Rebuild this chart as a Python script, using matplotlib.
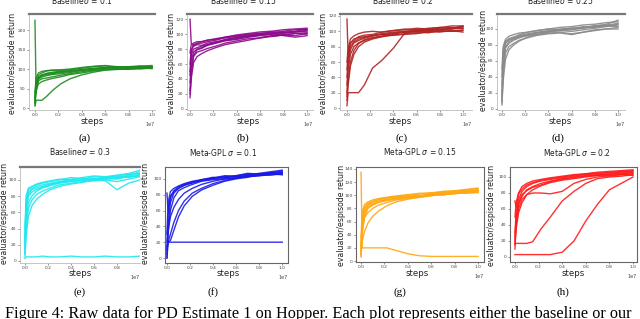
import matplotlib
matplotlib.use("Agg")
import matplotlib.pyplot as plt
from matplotlib.ticker import ScalarFormatter

# training steps (x 1e7) shared by every run
STEPS = [0, 0.01, 0.03, 0.06, 0.1, 0.15, 0.22, 0.3, 0.4, 0.5, 0.6, 0.7, 0.8, 0.9, 1.0]

# evaluator/episode return of each run
BASE_01 = [
    [225, 40, 75, 85, 88, 90, 93, 95, 97, 100, 103, 102, 104, 103, 106],
    [30, 70, 84, 90, 95, 97, 97, 98, 102, 106, 108, 104, 106, 108, 106],
    [15, 55, 70, 75, 77, 80, 84, 88, 93, 97, 100, 99, 101, 100, 103],
    [40, 78, 90, 94, 96, 97, 98, 100, 104, 107, 109, 106, 104, 107, 109],
    [8, 45, 62, 68, 72, 76, 80, 86, 90, 95, 98, 100, 99, 103, 101],
    [20, 60, 78, 82, 86, 88, 91, 93, 98, 102, 104, 104, 106, 104, 107],
    [5, 20, 20, 20, 30, 45, 62, 75, 85, 92, 97, 99, 100, 102, 103],
    [25, 65, 80, 84, 89, 92, 94, 96, 99, 101, 102, 106, 104, 105, 103],
    [12, 50, 74, 80, 83, 86, 88, 91, 96, 99, 103, 103, 102, 106, 105],
]
BASE_015 = [
    [120, 88, 84, 86, 85, 88, 90, 92, 95, 97, 99, 100, 101, 103, 104],
    [20, 45, 70, 76, 78, 81, 84, 88, 91, 94, 95, 98, 99, 98, 101],
    [60, 80, 84, 87, 90, 92, 93, 96, 99, 101, 103, 104, 106, 107, 108],
    [35, 65, 76, 80, 82, 85, 88, 91, 93, 96, 98, 97, 99, 101, 100],
    [15, 40, 62, 70, 74, 78, 82, 86, 89, 92, 95, 97, 99, 101, 102],
    [75, 86, 88, 90, 90, 92, 94, 96, 98, 100, 101, 103, 102, 104, 107],
    [45, 72, 80, 82, 84, 86, 89, 92, 94, 97, 100, 101, 98, 96, 98],
    [25, 55, 72, 79, 81, 86, 88, 93, 96, 98, 99, 100, 103, 103, 105],
    [50, 76, 86, 88, 88, 90, 92, 95, 97, 99, 101, 102, 104, 106, 106],
]
BASE_02 = [
    [116, 70, 85, 90, 92, 93, 95, 96, 98, 99, 100, 101, 102, 103, 104],
    [3, 20, 20, 20, 20, 30, 52, 62, 78, 98, 100, 98, 101, 100, 102],
    [40, 65, 80, 86, 90, 92, 94, 97, 99, 100, 102, 103, 101, 104, 106],
    [20, 50, 70, 80, 85, 88, 91, 93, 95, 96, 97, 99, 100, 100, 101],
    [60, 78, 90, 94, 97, 99, 100, 99, 101, 102, 104, 103, 105, 107, 107],
    [30, 55, 76, 85, 88, 91, 94, 96, 95, 97, 98, 100, 99, 101, 99],
    [15, 35, 60, 75, 84, 89, 92, 94, 97, 99, 101, 101, 103, 103, 107],
    [50, 72, 84, 88, 93, 95, 96, 99, 101, 103, 102, 104, 105, 104, 106],
    [10, 30, 55, 70, 80, 86, 90, 93, 96, 100, 99, 102, 104, 105, 104],
]
BASE_025 = [
    [10, 60, 82, 86, 88, 91, 93, 95, 97, 98, 99, 101, 103, 104, 106],
    [30, 70, 84, 88, 90, 92, 94, 96, 98, 100, 101, 102, 104, 106, 111],
    [5, 45, 70, 78, 82, 86, 89, 92, 94, 95, 93, 96, 98, 100, 102],
    [50, 78, 87, 91, 93, 95, 96, 98, 100, 102, 103, 105, 106, 108, 109],
    [20, 55, 78, 84, 87, 90, 92, 93, 95, 96, 94, 96, 99, 100, 100],
    [40, 74, 85, 87, 89, 93, 96, 98, 100, 99, 100, 103, 102, 105, 107],
    [15, 50, 76, 82, 86, 89, 92, 95, 97, 98, 97, 99, 101, 103, 105],
    [8, 35, 62, 74, 80, 85, 90, 93, 96, 99, 101, 101, 104, 104, 103],
]
BASE_03 = [
    [3, 5, 5, 5, 5, 6, 5, 5, 6, 5, 5, 6, 5, 5, 6],
    [10, 60, 82, 88, 90, 92, 95, 97, 99, 100, 102, 101, 103, 106, 110],
    [25, 75, 88, 91, 94, 96, 98, 100, 103, 101, 104, 103, 105, 107, 108],
    [5, 40, 65, 75, 82, 86, 90, 94, 96, 98, 99, 100, 98, 101, 104],
    [40, 80, 90, 92, 95, 97, 99, 101, 100, 102, 100, 99, 88, 96, 100],
    [15, 50, 72, 80, 86, 90, 93, 96, 98, 100, 101, 103, 104, 103, 106],
    [30, 70, 85, 89, 92, 94, 96, 98, 101, 103, 105, 104, 106, 108, 112],
    [8, 30, 55, 68, 76, 82, 88, 92, 95, 97, 100, 101, 102, 104, 105],
    [20, 65, 80, 85, 88, 91, 94, 97, 99, 99, 101, 103, 101, 105, 107],
]
META_01 = [
    [0, 20, 20, 20, 20, 20, 20, 20, 20, 20, 20, 20, 20, 20, 20],
    [82, 60, 78, 85, 90, 93, 96, 98, 100, 102, 103, 104, 106, 107, 110],
    [5, 40, 70, 82, 88, 92, 95, 98, 101, 103, 104, 106, 105, 108, 107],
    [10, 20, 30, 45, 60, 72, 82, 88, 94, 98, 101, 103, 104, 106, 108],
    [15, 20, 22, 35, 52, 66, 78, 86, 92, 97, 100, 102, 105, 105, 107],
    [30, 70, 84, 88, 91, 94, 97, 99, 101, 104, 103, 105, 107, 109, 111],
    [20, 55, 76, 84, 88, 92, 95, 99, 102, 101, 104, 107, 106, 108, 109],
    [0, 30, 60, 76, 85, 89, 93, 97, 99, 100, 102, 103, 104, 105, 106],
    [12, 35, 52, 64, 74, 82, 88, 93, 97, 100, 101, 104, 106, 107, 105],
]
META_015 = [
    [135, 20, 20, 20, 20, 20, 20, 16, 11, 8, 7, 7, 7, 7, 7],
    [6, 45, 72, 82, 86, 90, 93, 95, 98, 100, 101, 103, 104, 105, 107],
    [20, 65, 80, 86, 90, 93, 96, 98, 100, 102, 104, 105, 106, 108, 110],
    [10, 30, 45, 58, 68, 76, 84, 90, 94, 97, 100, 101, 103, 104, 105],
    [35, 75, 86, 90, 93, 95, 97, 99, 101, 103, 103, 106, 107, 109, 111],
    [15, 55, 76, 84, 88, 91, 94, 96, 97, 99, 100, 102, 103, 103, 104],
    [25, 60, 82, 88, 91, 94, 96, 97, 99, 98, 101, 104, 105, 106, 108],
    [8, 40, 68, 80, 85, 89, 92, 94, 96, 99, 102, 100, 104, 107, 106],
    [18, 50, 66, 74, 80, 85, 89, 93, 95, 97, 99, 102, 102, 105, 109],
]
META_02 = [
    [3, 3, 3, 3, 3, 3, 3, 3, 6, 20, 45, 66, 84, 92, 100],
    [17, 17, 17, 17, 17, 19, 35, 50, 70, 82, 92, 98, 100, 101, 103],
    [10, 40, 60, 72, 78, 80, 80, 79, 82, 92, 97, 100, 102, 103, 104],
    [30, 55, 72, 82, 88, 92, 95, 97, 99, 101, 103, 104, 106, 107, 108],
    [15, 45, 65, 76, 84, 88, 92, 95, 97, 100, 101, 102, 104, 104, 105],
    [50, 68, 80, 88, 92, 95, 97, 99, 101, 103, 104, 106, 107, 108, 109],
    [20, 35, 55, 68, 78, 84, 89, 93, 96, 98, 100, 102, 101, 103, 102],
    [70, 62, 78, 85, 90, 93, 96, 98, 100, 102, 104, 105, 105, 106, 107],
    [25, 50, 68, 78, 83, 87, 90, 94, 98, 99, 102, 103, 103, 105, 106],
]

TITLES = ["Baseline$\\sigma$ = 0.1", "Baseline$\\sigma$ = 0.15",
          "Baseline$\\sigma$ = 0.2", "Baseline$\\sigma$ = 0.25",
          "Baseline$\\sigma$ = 0.3", "Meta-GPL $\\sigma$ = 0.1",
          "Meta-GPL $\\sigma$ = 0.15", "Meta-GPL $\\sigma$ = 0.2"]
CAPTIONS = ["(a)", "(b)", "(c)", "(d)", "(e)", "(f)", "(g)", "(h)"]
RUNS = [BASE_01, BASE_015, BASE_02, BASE_025, BASE_03, META_01, META_015, META_02]
COLORS = ["#1e8c1e", "#8b0a8b", "#b02424", "#8a8a8a",
          "#1ee8ee", "#1a1ae6", "#ffa812", "#ff1a1a"]
YTICKS = [[0, 50, 100, 150, 200], range(0, 121, 20), range(0, 121, 20),
          range(0, 101, 20), range(0, 101, 20), range(0, 101, 20),
          range(0, 141, 20), range(0, 101, 20)]

W, H = 640, 319

# pixel layout of each panel: box, x limits, y limits, title/label spots
PANELS = [
    dict(box=(29, 14, 155, 110), xl=(-0.051, 1.026), yl=(-5, 241),
         title=(82, 6), ylab=(13, 63), steps=(92, 122), cap=(85, 138), top=True),
    dict(box=(187, 14, 313, 110), xl=(-0.026, 1.051), yl=(-1.5, 127),
         title=(243, 6), ylab=(171, 63), steps=(248, 122), cap=(243, 138), top=True),
    dict(box=(340, 14, 472, 110), xl=(-0.06, 1.078), yl=(-2.6, 122.6),
         title=(403, 6), ylab=(323, 63), steps=(400, 122), cap=(402, 138), top=True),
    dict(box=(497, 14, 625, 110), xl=(-0.043, 1.06), yl=(-1.25, 118.75),
         title=(560, 6), ylab=(483, 60), steps=(560, 122), cap=(558, 138), top=True),
    dict(box=(20, 167, 140, 263), xl=(-0.043, 1.0), yl=(-2.5, 116),
         title=(80, 157), ylab=(5, 213), steps=(80, 274), cap=(80, 292), top=True),
    dict(box=(165, 167, 288, 263), xl=(-0.017, 1.05), yl=(-6.3, 115),
         title=(223, 158), ylab=(146, 213), steps=(228, 274), cap=(213, 292), top=False),
    dict(box=(356, 167, 484, 262), xl=(-0.043, 1.051), yl=(-1.5, 143),
         title=(420, 157), ylab=(341, 215), steps=(417, 274), cap=(400, 292), top=False),
    dict(box=(510, 167, 637, 262), xl=(-0.042, 1.034), yl=(-6.25, 112.5),
         title=(577, 158), ylab=(492, 215), steps=(573, 274), cap=(563, 292), top=False),
]


def fx(px):
    return px / W


def fy(py):
    return 1 - py / H


def draw_panel(fig, i, p):
    l, t, r, b = p["box"]
    ax = fig.add_axes([fx(l), fy(b), (r - l) / W, (b - t) / H])
    ax.set_facecolor("white")
    steps = [s * 1e7 for s in STEPS]
    for run in RUNS[i]:
        ax.plot(steps, run, color=COLORS[i], lw=1.0, alpha=0.9)

    ax.set_xlim(p["xl"][0] * 1e7, p["xl"][1] * 1e7)
    ax.set_ylim(*p["yl"])
    if i == 4:
        ax.set_xticks([k * 2e6 for k in range(5)])
    else:
        ax.set_xticks([k * 2e6 for k in range(6)])
    ax.set_yticks(list(YTICKS[i]))
    fmt = ScalarFormatter(useMathText=False)
    fmt.set_powerlimits((7, 7))
    ax.xaxis.set_major_formatter(fmt)
    ax.xaxis.get_offset_text().set_fontsize(3.5)
    ax.xaxis.get_offset_text().set_color("#444444")
    ax.tick_params(labelsize=3.2, length=1.5, width=0.4, pad=1,
                   colors="#444444")

    if p["top"]:
        for side in ["left", "bottom"]:
            ax.spines[side].set_color("#bbbbbb")
            ax.spines[side].set_linewidth(0.6)
        ax.spines["top"].set_color("#777777")
        ax.spines["top"].set_linewidth(1.6)
        ax.spines["right"].set_visible(False)
    else:
        for side in ax.spines:
            ax.spines[side].set_color("#666666")
            ax.spines[side].set_linewidth(0.8)

    fig.text(fx(p["title"][0]), fy(p["title"][1]), TITLES[i], fontsize=5.5,
             ha="center", va="bottom", color="#222222")
    fig.text(fx(p["ylab"][0]), fy(p["ylab"][1]), "evaluator/espisode return",
             fontsize=5.6, rotation=90, ha="center", va="center", color="#222222")
    fig.text(fx(p["steps"][0]), fy(p["steps"][1]), "steps", fontsize=6.2,
             ha="center", va="center", color="#222222")
    fig.text(fx(p["cap"][0]), fy(p["cap"][1]), CAPTIONS[i], fontsize=8,
             family="Liberation Serif", ha="center", va="center")


def main():
    fig = plt.figure(figsize=(W / 100, H / 100), dpi=100)
    for i, p in enumerate(PANELS):
        draw_panel(fig, i, p)
    fig.text(fx(5), fy(306), "Figure 4: Raw data for PD Estimate 1 on Hopper. "
             "Each plot represents either the baseline or our",
             fontsize=11.7, family="Liberation Serif", ha="left", va="top")
    fig.savefig("out.png", dpi=100)


if __name__ == "__main__":
    main()
